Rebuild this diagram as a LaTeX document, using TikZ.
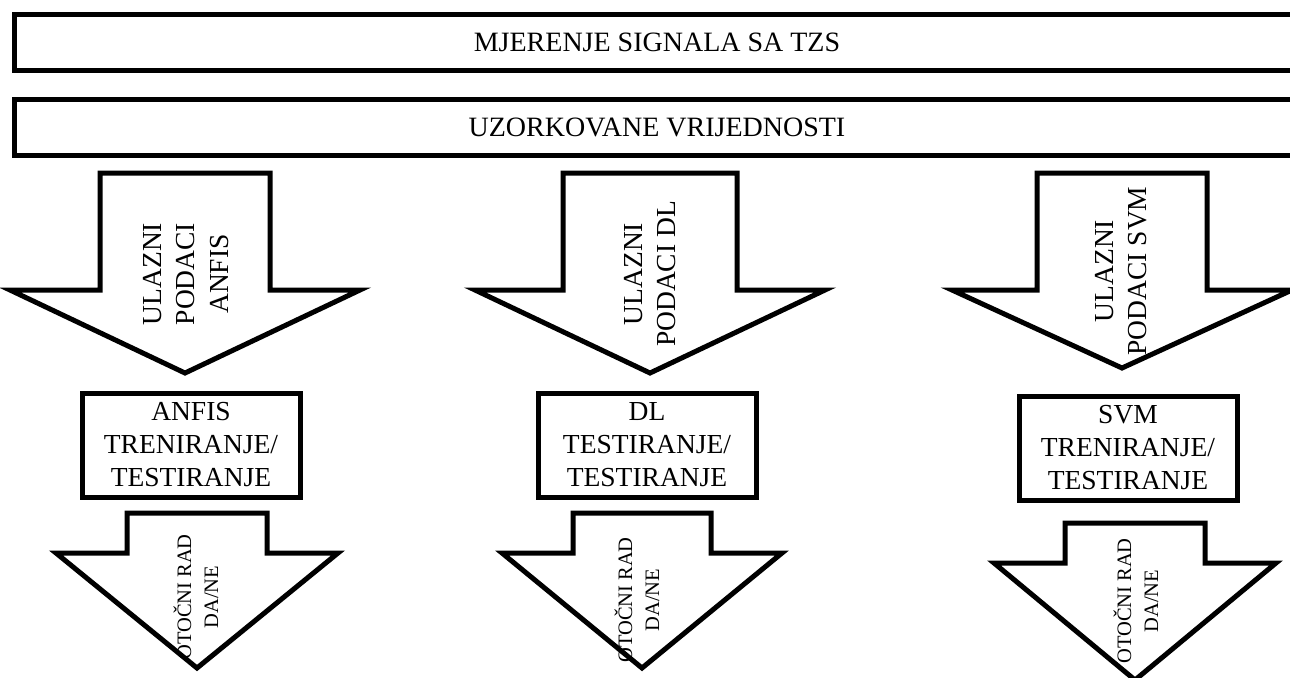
\documentclass[tikz,border=0pt]{standalone}
\usepackage{fontspec}
\setmainfont{Liberation Serif}
\tikzset{bar/.style={draw, line width=2.5pt, fill=white, minimum width=643pt, minimum height=28pt, inner sep=0pt, font=\fontsize{14}{17}\selectfont}}
\tikzset{stage/.style={draw, line width=2.5pt, fill=white, minimum width=109pt, minimum height=52pt, inner sep=0pt, align=center, font=\fontsize{13.75}{16.5}\selectfont}}
\tikzset{bigarr/.style={draw, line width=2.5pt, fill=white, line join=miter}}
\tikzset{intext/.style={rotate=90, align=center, inner sep=0pt, font=\fontsize{13.75}{16.8}\selectfont}}
\tikzset{outtext/.style={rotate=90, align=center, inner sep=0pt, font=\fontsize{10.25}{13.5}\selectfont}}
% #1 centre x, #2 top, #3 shoulder, #4 tip, #5 half shaft, #6 half head
\newcommand{\bigarrow}[6]{%
  \draw[bigarr] (#1-#5,#2) -- (#1+#5,#2) -- (#1+#5,#3) -- (#1+#6,#3) -- (#1,#4)
    -- (#1-#6,#3) -- (#1-#5,#3) -- cycle;}
\begin{document}
\begin{tikzpicture}[x=0.5pt,y=-0.5pt]
      \useasboundingbox (0,0) rectangle (1290,677);
      % top bars
      \node[bar] (mjer) at (657,42) {MJERENJE SIGNALA SA TZS};
      \node[bar] (uzor) at (657,127) {UZORKOVANE VRIJEDNOSTI};
      % input arrows
      \bigarrow{185}{173}{290}{373}{85}{175}
      \bigarrow{650}{173}{290}{373}{87}{175}
      \bigarrow{1122}{173}{290}{368}{85}{170}
      \node[intext] (in1) at (186,274) {ULAZNI\\PODACI\\ANFIS};
      \node[intext] (in2) at (650,274) {ULAZNI\\PODACI DL};
      \node[intext] (in3) at (1121,271) {ULAZNI\\PODACI SVM};
      % training boxes
      \node[stage] (tr1) at (191,445) {ANFIS\\TRENIRANJE/\\TESTIRANJE};
      \node[stage] (tr2) at (647,445) {DL\\TESTIRANJE/\\TESTIRANJE};
      \node[stage] (tr3) at (1128,448) {SVM\\TRENIRANJE/\\TESTIRANJE};
      % output arrows
      \bigarrow{197}{513}{553}{668}{70}{141}
      \bigarrow{642}{513}{553}{668}{69}{140}
      \bigarrow{1135}{523}{563}{680}{70}{141}
      \node[outtext] (out1) at (196,597) {OTOČNI RAD\\DA/NE};
      \node[outtext] (out2) at (637,600) {OTOČNI RAD\\DA/NE};
      \node[outtext] (out3) at (1136,601) {OTOČNI RAD\\DA/NE};
    \end{tikzpicture}
\end{document}
